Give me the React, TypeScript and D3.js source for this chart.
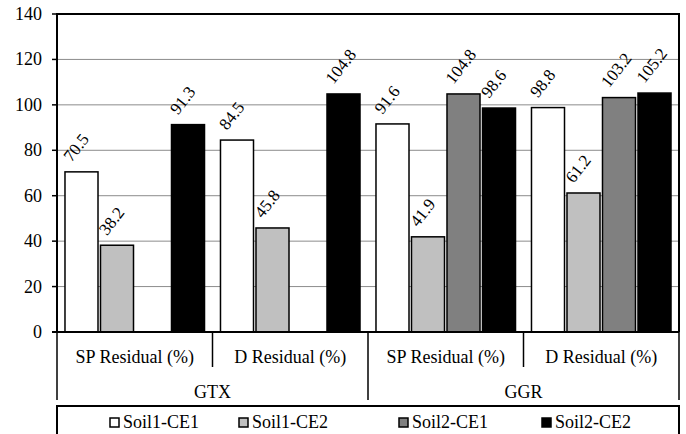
import * as d3 from "d3";

const materials = ["GTX", "GGR"];
const measures = ["SP Residual (%)", "D Residual (%)"];
const series = ["Soil1-CE1", "Soil1-CE2", "Soil2-CE1", "Soil2-CE2"];
const seriesFill = ["#ffffff", "#c0c0c0", "#808080", "#000000"];

// one value per category: GTX-SP, GTX-D, GGR-SP, GGR-D
const soil1CE1 = [70.5, 84.5, 91.6, 98.8];
const soil1CE2 = [38.2, 45.8, 41.9, 61.2];
const soil2CE1 = [null, null, 104.8, 103.2];
const soil2CE2 = [91.3, 104.8, 98.6, 105.2];
const seriesValues = [soil1CE1, soil1CE2, soil2CE1, soil2CE2];

const yTicks = [0, 20, 40, 60, 80, 100, 120, 140];

const W = 686;
const H = 434;
const left = 57;
const right = 679;
const top = 14;
const bottom = 332;
const font = "Liberation Serif, Times New Roman, DejaVu Serif, serif";

export default function App() {
  const cats = materials.flatMap((m) => measures.map((s) => `${m}|${s}`));
  const x0 = d3.scaleBand(cats, [left, right]).padding(0);
  const x1 = d3
    .scaleBand(series, [0, x0.bandwidth()])
    .paddingInner(0.07)
    .paddingOuter(0.225);
  const y = d3.scaleLinear([0, 140], [bottom, top]);
  const xm = d3.scaleBand(materials, [left, right]);

  const row1 = 367;
  const row2 = 400;

  return (
    <div style={{ position: "absolute", left: 0, top: 0, width: W, height: H, background: "#fff" }}>
      <svg width={W} height={H}>
        {/* gridlines */}
        {yTicks
          .filter((t) => t > 0 && t < 140)
          .map((t) => (
            <line key={t} x1={left} x2={right} y1={y(t)} y2={y(t)} stroke="#8c8c8c" strokeWidth={1} />
          ))}

        {/* bars */}
        {cats.map((c, ci) => (
          <g key={c} transform={`translate(${x0(c)},0)`}>
            {series.map((s, si) => {
              const v = seriesValues[si][ci];
              if (v == null) return null;
              const bx = x1(s)!;
              const cx = bx + x1.bandwidth() / 2;
              return (
                <g key={s}>
                  <rect
                    x={bx}
                    y={y(v)}
                    width={x1.bandwidth()}
                    height={y(0) - y(v)}
                    fill={seriesFill[si]}
                    stroke="#000"
                    strokeWidth={1.5}
                  />
                  <text
                    transform={`translate(${cx - 10},${y(v) - 9}) rotate(-52)`}
                    fontSize={17}
                    fontFamily={font}
                    fill="#000"
                  >
                    {v.toFixed(1)}
                  </text>
                </g>
              );
            })}
          </g>
        ))}

        {/* frame */}
        <path
          d={`M${left},${bottom}V${top}H${right}V${bottom}`}
          fill="none"
          stroke="#000"
          strokeWidth={2}
        />
        <line x1={left - 5} x2={right} y1={bottom} y2={bottom} stroke="#000" strokeWidth={2} />

        {/* y axis */}
        {yTicks.map((t) => (
          <g key={t}>
            <line x1={left - 5} x2={left} y1={y(t)} y2={y(t)} stroke="#000" strokeWidth={1.5} />
            <text
              x={left - 15}
              y={y(t)}
              dy="0.33em"
              textAnchor="end"
              fontSize={18}
              fontFamily={font}
            >
              {t}
            </text>
          </g>
        ))}

        {/* category axis table */}
        {cats.map((c, ci) => {
          const bx = x0(c)!;
          const isOuter = ci % 2 === 0;
          return (
            <g key={c}>
              <line
                x1={bx}
                x2={bx}
                y1={bottom}
                y2={isOuter ? row2 : row1}
                stroke="#000"
                strokeWidth={1.5}
              />
              <text
                x={bx + x0.bandwidth() / 2}
                y={357}
                dy="0.33em"
                textAnchor="middle"
                fontSize={18}
                fontFamily={font}
              >
                {c.split("|")[1]}
              </text>
            </g>
          );
        })}
        <line x1={right} x2={right} y1={bottom} y2={row2} stroke="#000" strokeWidth={1.5} />
        {materials.map((m) => (
          <text
            key={m}
            x={xm(m)! + xm.bandwidth() / 2}
            y={392}
            dy="0.33em"
            textAnchor="middle"
            fontSize={18}
            fontFamily={font}
          >
            {m}
          </text>
        ))}

        {/* legend */}
        <rect x={left} y={406} width={right - left} height={40} fill="none" stroke="#000" strokeWidth={2} />
        {series.map((s, si) => {
          const lx = [110, 239, 399, 542][si];
          return (
            <g key={s}>
              <rect x={lx} y={418} width={9} height={9} fill={seriesFill[si]} stroke="#000" strokeWidth={1.5} />
              <text x={lx + 13} y={428} fontSize={18} fontFamily={font}>
                {s}
              </text>
            </g>
          );
        })}
      </svg>
    </div>
  );
}
